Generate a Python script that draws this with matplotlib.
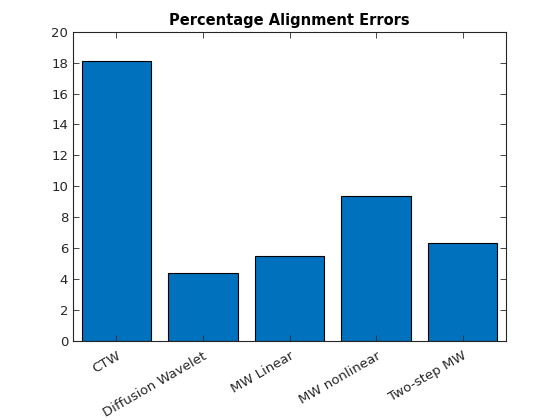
import numpy as np
import matplotlib
matplotlib.use('Agg')
import matplotlib.pyplot as plt

# data
methods = ['CTW', 'Diffusion Wavelet', 'MW Linear', 'MW nonlinear', 'Two-step MW']
errors = [18.12, 4.38, 5.51, 9.35, 6.31]

fig = plt.figure(figsize=(5.6, 4.2), dpi=100)
ax = fig.add_axes([73 / 560, 1 - 341 / 420, (506 - 73) / 560, (341 - 31.7) / 420])

x = np.arange(1, len(methods) + 1)
ax.bar(x, errors, width=0.8, color='#0072BD', edgecolor='black', linewidth=0.8)

ax.set_xlim(0.5, len(methods) + 0.5)
ax.set_ylim(0, 20)
ax.set_yticks(np.arange(0, 21, 2))
ax.set_xticks(x)
ax.set_xticklabels(methods, rotation=30, ha='right', rotation_mode='anchor')
ax.tick_params(direction='in', top=True, right=True, length=4, width=0.6,
               labelsize=9.5, colors='#262626')
ax.tick_params(axis='x', pad=6)
for s in ax.spines.values():
    s.set_color('#262626')
    s.set_linewidth(0.8)
ax.set_title('Percentage Alignment Errors', fontsize=10.5, fontweight='bold', pad=5)

fig.savefig('out.png', dpi=100)
